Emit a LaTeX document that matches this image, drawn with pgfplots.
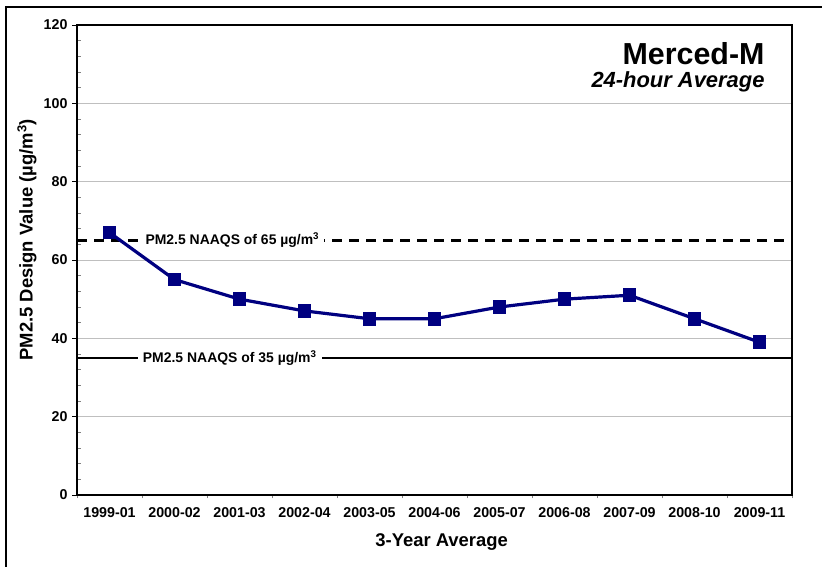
\documentclass[border=0pt]{standalone}
\usepackage{pgfplots}
\pgfplotsset{compat=1.18}
\usepackage{fontspec}
\setmainfont{Liberation Sans}
\definecolor{navyline}{RGB}{0,0,128}
\begin{document}
\begin{tikzpicture}
\useasboundingbox (0,0) rectangle (822bp,567bp);
\draw[line width=2.4bp] (6bp,-2bp) -- (6bp,560bp) -- (824bp,560bp);
\begin{axis}[
  at={(77bp,72bp)}, anchor=south west,
  width=715bp, height=470bp, scale only axis,
  xmin=-0.5, xmax=10.5, ymin=0, ymax=120,
  ytick={0,20,...,120},
  minor y tick num=4,
  xtick={0,...,10},
  xticklabels={1999-01,2000-02,2001-03,2002-04,2003-05,2004-06,2005-07,2006-08,2007-09,2008-10,2009-11},
  minor xtick={-0.5,0.5,...,10.5},
  major x tick style={draw=none},
  tick align=outside,
  xtick pos=bottom, ytick pos=left,
  major tick length=5bp, minor tick length=3.5bp,
  tick style={black, line width=0.9bp},
  minor tick style={gray, line width=0.7bp},
  minor y tick style={xshift=3.5bp},
  ymajorgrids,
  major grid style={gray!50, line width=0.7bp},
  axis line style={line width=2.5bp},
  ticklabel style={font=\fontsize{14.3}{16}\selectfont\bfseries},
  /pgf/number format/assume math mode=true,
  xticklabel style={yshift=-4bp},
  yticklabel style={xshift=-1bp},
  xlabel={3-Year Average},
  ylabel={PM2.5 Design Value (µg/m\textsuperscript{3})},
  xlabel style={font=\fontsize{18.5}{20}\selectfont\bfseries, at={(axis description cs:0.51,-0.1)}, anchor=center},
  ylabel style={font=\fontsize{18.5}{20}\selectfont\bfseries, at={(axis description cs:-0.07,0.543)}, anchor=center, rotate=0},
  clip=false,
]
\addplot[black, line width=2.2bp, dash pattern=on 10bp off 7bp] coordinates {(-0.5,65) (10.5,65)};
\addplot[black, line width=2.2bp] coordinates {(-0.5,35) (10.5,35)};
\node[fill=white, inner xsep=5bp, inner ysep=2bp, font=\fontsize{14}{15}\selectfont\bfseries] at (axis cs:1.89,65) {PM2.5 NAAQS of 65 µg/m\textsuperscript{3}};
\node[fill=white, inner xsep=5bp, inner ysep=2bp, font=\fontsize{14}{15}\selectfont\bfseries] at (axis cs:1.85,35) {PM2.5 NAAQS of 35 µg/m\textsuperscript{3}};
\addplot[navyline, line width=3.2bp, mark=square*, mark size=5.2bp, mark options={solid, fill=navyline}] coordinates {
(0,67) (1,55) (2,50) (3,47) (4,45) (5,45) (6,48) (7,50) (8,51) (9,45) (10,39)};
\draw[black, line width=2.3bp] (rel axis cs:0,0) rectangle (rel axis cs:1,1);
\end{axis}
\node[anchor=base east, font=\fontsize{30.5}{32}\selectfont\bfseries] at (768bp,502bp) {Merced-M};
\node[anchor=base east, font=\fontsize{22}{24}\selectfont\bfseries\itshape] at (768bp,479bp) {24-hour Average};
\end{tikzpicture}
\end{document}
